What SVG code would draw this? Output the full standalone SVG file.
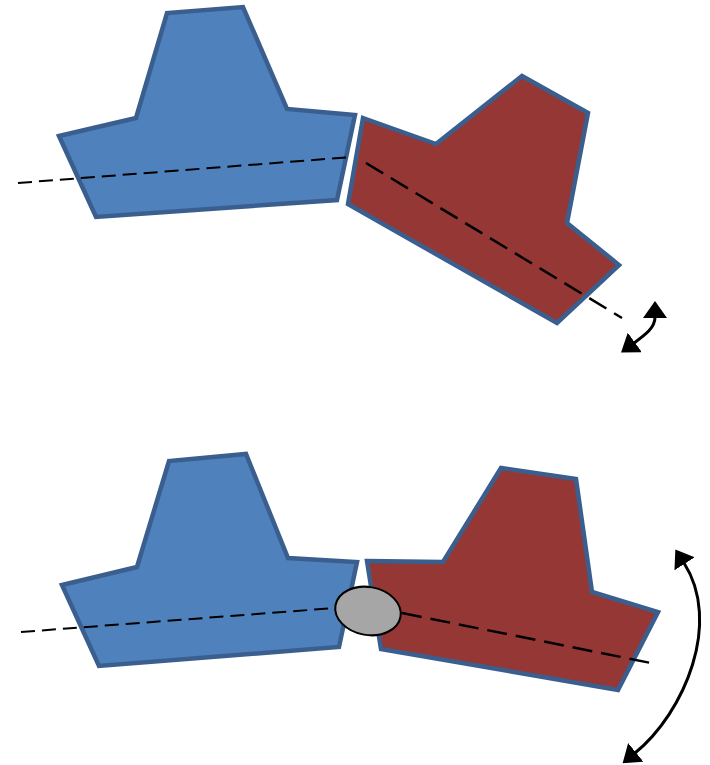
<svg xmlns="http://www.w3.org/2000/svg" width="710" height="765" viewBox="0 0 710 765">
<style>
.blue{fill:#4F81BD;stroke:#3A5F8F;stroke-width:4.5;stroke-linejoin:miter}
.red{fill:#953735;stroke:#3A5F8F;stroke-width:4.5;stroke-linejoin:miter}
.axis{fill:none;stroke:#000;stroke-width:2;stroke-dasharray:14 7}
.axis2{fill:none;stroke:#000;stroke-width:2.5;stroke-dasharray:20 9}
.arc{fill:none;stroke:#000;stroke-width:3;marker-start:url(#ah);marker-end:url(#ah)}
</style>
<defs>
<marker id="ah" viewBox="0 0 17 24" refX="1" refY="12" markerUnits="userSpaceOnUse" markerWidth="17" markerHeight="24" orient="auto-start-reverse">
<path d="M0,0 L17,12 L0,24 z" fill="#000"/>
</marker>
</defs>
<g id="blue-top"><polygon class="blue" points="59,136 136,118 167,13 243,7 287,109 355,115 337,200 96,217"/></g>
<g id="red-top"><polygon class="red" points="363,118 436,144 522,76 588,113 567,223 619,265 557,323 348,204"/></g>
<g id="blue-bottom"><polygon class="blue" points="62,585 137,567 169,461 246,454 288,558 357,562 339,647 99,666"/></g>
<g id="red-bottom"><polygon class="red" points="367,561 443,562 501,468 576,479 592,592 658,612 618,690 381,649"/></g>
<g id="joint"><ellipse cx="368" cy="611" rx="33" ry="24" transform="rotate(10 368 611)" fill="#A6A6A6" stroke="#000" stroke-width="2"/></g>
<g id="connectors">
<path class="axis" d="M18,183 L352,157"/>
<path class="axis2" d="M366,163 L622,318"/>
<path class="axis" d="M21,632 L335,608"/>
<path class="axis2" d="M402,613 L656,664"/>
<path class="arc" d="M634,343 C645,335 655,328 655,317"/>
<path class="arc" d="M635,753 C685,712 722,622 684,563"/>
</g>
</svg>
